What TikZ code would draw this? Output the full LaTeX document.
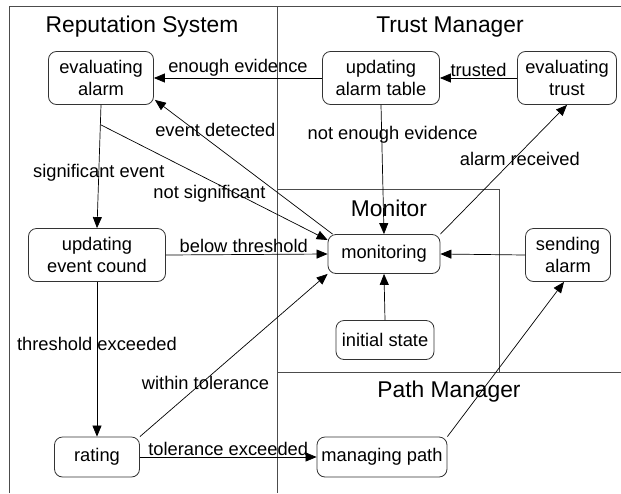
\documentclass[tikz,border=0pt]{standalone}
\usepackage{fontspec}
\setmainfont{Liberation Sans}
\usetikzlibrary{arrows.meta,calc}
\begin{document}
\begin{tikzpicture}[x=1pt,y=-1pt,
  stbox/.style={draw=black!80,line width=0.8pt,rounded corners=8pt,align=center,inner sep=0pt,font=\fontsize{18.3}{22}\selectfont},
  lbl/.style={inner sep=1pt,font=\fontsize{18.3}{21}\selectfont},
  ttl/.style={inner sep=0pt,font=\fontsize{22.8}{26}\selectfont},
  arr/.style={draw=black,line width=0.7pt,-{Triangle[length=11pt,width=9pt]}},
  region/.style={draw=black!70,line width=0.9pt}]
\useasboundingbox (0,0) rectangle (621,493);
% regions
\draw[region] (9,493) -- (9,6) -- (621,6);
\draw[region] (277,6) -- (277,493);
\draw[region] (277,189) -- (499,189) -- (499,372);
\draw[region] (277,372) -- (621,372);
% titles
\node[ttl] (t1) at (142,27) {Reputation System};
\node[ttl] (t2) at (450,27) {Trust Manager};
\node[ttl] (t3) at (389,208) {Monitor};
\node[ttl] (t4) at (449,392) {Path Manager};
% states
\node[stbox,minimum width=105pt,minimum height=53pt] (ea) at (101,78) {evaluating\\alarm};
\node[stbox,minimum width=117pt,minimum height=53pt] (uat) at (381,78) {updating\\alarm table};
\node[stbox,minimum width=99pt,minimum height=53pt] (et) at (567,78) {evaluating\\trust};
\node[stbox,minimum width=137pt,minimum height=53pt] (uec) at (97,255) {updating\\event cound};
\node[stbox,minimum width=112pt,minimum height=39pt] (mon) at (384,254) {monitoring};
\node[stbox,minimum width=85pt,minimum height=53pt] (sa) at (568,255) {sending\\alarm};
\node[stbox,minimum width=98pt,minimum height=39pt] (is) at (385,340) {initial state};
\node[stbox,minimum width=85pt,minimum height=40pt] (rat) at (97,457) {rating};
\node[stbox,minimum width=130pt,minimum height=40pt] (mp) at (382,457) {managing path};
% connectors
\draw[arr] (uat.west) -- node[lbl,above] {enough evidence} (ea.east);
\draw[arr] (et.west) -- node[lbl,above] {trusted} (uat.east);
\draw[arr] (uat.south) -- node[lbl,pos=0.23,xshift=11pt] {not enough evidence} (mon.north);
\draw[arr] (mon.north east) -- node[lbl,pos=0.58,xshift=6pt] {alarm received} (et.south);
\draw[arr] ($(mon.north west)+(5,0)$) -- node[lbl,pos=0.66,yshift=16pt] {event detected} ($(ea.south east)+(1,-5)$);
\coordinate (ns) at ($(ea.south)!0.16!(uec.north)$);
\draw[arr] (ea.south) -- node[lbl,pos=0.55] {significant event} (uec.north);
\draw[arr] (ns) -- node[lbl,pos=0.48,yshift=-14pt] {not significant} ($(mon.west)+(0,-14)$);
\draw[arr] (uec.east) -- node[lbl,above,xshift=-3pt] {below threshold} (mon.west);
\draw[arr] (uec.south) -- node[lbl,pos=0.4] {threshold exceeded} (rat.north);
\draw[arr] (rat.north east) -- node[lbl,pos=0.36,xshift=-2pt,yshift=-5pt] {within tolerance} (mon.south west);
\draw[arr] (rat.east) -- node[lbl,above] {tolerance exceeded} (mp.west);
\draw[arr] (mp.north east) -- ($(sa.south)+(-4,0)$);
\draw[arr] (sa.west) -- (mon.east);
\draw[arr] (is.north) -- (mon.south);
\end{tikzpicture}
\end{document}
